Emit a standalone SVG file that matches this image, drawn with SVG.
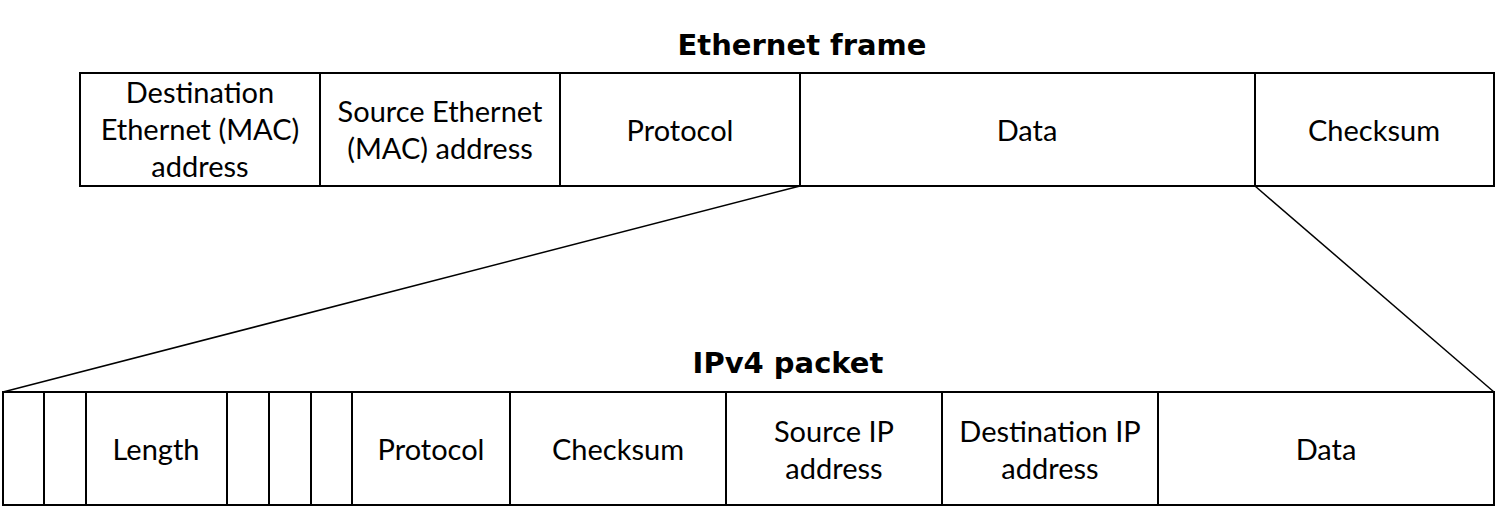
<svg xmlns="http://www.w3.org/2000/svg" width="1496" height="508" viewBox="0 0 1496 508">
<style>
.box{fill:#fff;stroke:#000;stroke-width:2}
.t{font-family:Lato,"Open Sans","Liberation Sans",sans-serif;font-size:29px;fill:#000;text-anchor:middle}
.h{font-family:"DejaVu Sans","Liberation Sans",sans-serif;font-size:29px;font-weight:bold;fill:#000;text-anchor:middle}
.c{stroke:#000;stroke-width:1.5;fill:none}
</style>
<rect width="1496" height="508" fill="#fff"/>
<g id="connectors">
<line class="c" x1="800" y1="186" x2="3" y2="392"/>
<line class="c" x1="1255" y1="186" x2="1494" y2="392"/>
</g>
<text id="title-ethernet" class="h" x="802" y="55">Ethernet frame</text>
<text id="title-ipv4" class="h" x="788" y="373">IPv4 packet</text>
<g id="eth-dest"><rect class="box" x="80" y="73" width="240" height="113"/><text class="t" x="200" y="103">Destination</text><text class="t" x="200" y="140">Ethernet (MAC)</text><text class="t" x="200" y="177">address</text></g>
<g id="eth-src"><rect class="box" x="320" y="73" width="240" height="113"/><text class="t" x="440" y="122">Source Ethernet</text><text class="t" x="440" y="159">(MAC) address</text></g>
<g id="eth-proto"><rect class="box" x="560" y="73" width="240" height="113"/><text class="t" x="680" y="141">Protocol</text></g>
<g id="eth-data"><rect class="box" x="800" y="73" width="455" height="113"/><text class="t" x="1027" y="141">Data</text></g>
<g id="eth-checksum"><rect class="box" x="1255" y="73" width="239" height="113"/><text class="t" x="1374" y="141">Checksum</text></g>
<g id="ip-f1"><rect class="box" x="3" y="392" width="41" height="113"/></g>
<g id="ip-f2"><rect class="box" x="44" y="392" width="42" height="113"/></g>
<g id="ip-length"><rect class="box" x="86" y="392" width="141" height="113"/><text class="t" x="156" y="460">Length</text></g>
<g id="ip-f4"><rect class="box" x="227" y="392" width="42" height="113"/></g>
<g id="ip-f5"><rect class="box" x="269" y="392" width="42" height="113"/></g>
<g id="ip-f6"><rect class="box" x="311" y="392" width="41" height="113"/></g>
<g id="ip-proto"><rect class="box" x="352" y="392" width="158" height="113"/><text class="t" x="431" y="460">Protocol</text></g>
<g id="ip-checksum"><rect class="box" x="510" y="392" width="216" height="113"/><text class="t" x="618" y="460">Checksum</text></g>
<g id="ip-src"><rect class="box" x="726" y="392" width="216" height="113"/><text class="t" x="834" y="442">Source IP</text><text class="t" x="834" y="479">address</text></g>
<g id="ip-dst"><rect class="box" x="942" y="392" width="216" height="113"/><text class="t" x="1050" y="442">Destination IP</text><text class="t" x="1050" y="479">address</text></g>
<g id="ip-data"><rect class="box" x="1158" y="392" width="336" height="113"/><text class="t" x="1326" y="460">Data</text></g>
</svg>
